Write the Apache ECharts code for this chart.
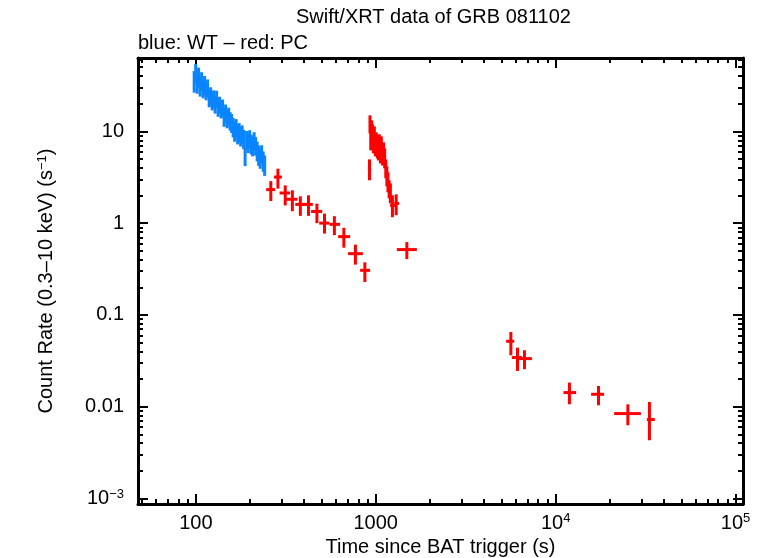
<!DOCTYPE html>
<html>
<head>
<meta charset="utf-8">
<script src="https://cdn.jsdelivr.net/npm/echarts@6/dist/echarts.min.js"></script>
<style>
  html, body { margin: 0; padding: 0; background: #fff; }
  #chart { width: 761px; height: 558px; }
</style>
</head>
<body>
<div id="chart"></div>
<script>
// WT mode (blue): time (s), time half-width (s), rate, rate error
const wtTime = [97.9, 99.8, 101.7, 103.6, 105.7, 107.7, 109.8, 111.9, 114.1, 116.3, 118.6, 120.9,
  123.2, 125.6, 128.0, 130.5, 133.0, 135.6, 138.2, 140.9, 143.6, 146.4, 149.3, 152.2,
  155.1, 158.1, 161.2, 164.3, 167.5, 170.8, 174.1, 177.5, 180.9, 184.4, 187.9, 191.6,
  195.3, 199.1, 203.0, 206.9, 210.9, 215.0, 219.2, 223.4, 227.8, 232.2, 236.7, 241.3];
const wtTErr = [0.95, 0.96, 0.98, 1.0, 1.0, 1.0, 1.05, 1.07, 1.1, 1.1, 1.1, 1.15,
  1.2, 1.2, 1.2, 1.25, 1.25, 1.3, 1.3, 1.35, 1.35, 1.4, 1.4, 1.45,
  1.5, 1.5, 1.5, 1.55, 1.6, 1.6, 1.65, 1.7, 1.7, 1.75, 1.8, 1.8,
  1.85, 1.9, 1.9, 2.0, 2.0, 2.0, 2.1, 2.1, 2.15, 2.2, 2.25, 2.3];
const wtRate = [35.9, 43.9, 34.2, 39.7, 31.7, 35.9, 29.4, 32.5, 28.0, 30.2, 23.5, 24.7,
  21.8, 22.9, 20.2, 22.9, 18.7, 19.7, 17.8, 18.3, 14.6, 16.1, 13.9, 14.9,
  13.2, 12.5, 11.3, 10.3, 11.1, 9.51, 10.0, 9.04, 9.51, 8.39, 5.48, 8.18,
  7.59, 8.39, 7.40, 7.04, 7.98, 7.04, 6.21, 5.61, 5.21, 5.76, 4.83, 4.37];
const wtErr = [9.5, 10.5, 8.5, 9.8, 7.8, 8.2, 6.5, 7.6, 6.2, 6.6, 5.2, 5.5,
  4.9, 5.1, 4.6, 4.8, 4.3, 4.1, 4.0, 3.9, 3.4, 3.5, 3.1, 3.2,
  3.0, 2.9, 2.7, 2.6, 2.5, 2.3, 2.3, 2.2, 2.1, 2.0, 1.3, 1.9,
  1.8, 1.9, 1.8, 1.7, 1.8, 1.6, 1.5, 1.4, 1.3, 1.3, 1.2, 1.1];

// PC mode (red): time, time start, time end, rate, rate low, rate high
const pcTime = [261, 286, 314, 344, 381, 423, 471, 519, 589, 665, 771, 870, 923,
  929, 938, 949, 960, 971, 982, 995, 1008, 1021, 1034, 1047, 1061, 1074, 1089, 1105,
  1121, 1137, 1153, 1169, 1187, 1206, 1238, 1299, 1489,
  5636, 6136, 6709, 11930, 17300, 25200, 33210];
const pcTLo = [246, 272, 292, 318, 357, 396, 437, 485, 553, 618, 702, 819, 904,
  925, 934, 944, 955, 966, 977, 989, 1002, 1015, 1028, 1041, 1055, 1068, 1082, 1098,
  1114, 1130, 1146, 1162, 1179, 1198, 1202, 1270, 1310,
  5308, 5708, 6214, 11050, 15750, 21150, 32140];
const pcTHi = [276, 301, 334, 367, 405, 447, 504, 553, 634, 721, 848, 931, 943,
  933, 942, 954, 965, 976, 987, 1001, 1014, 1027, 1040, 1053, 1067, 1081, 1096, 1112,
  1128, 1145, 1161, 1177, 1195, 1214, 1282, 1350, 1692,
  5881, 6489, 7376, 13000, 18600, 29770, 35600];
const pcRate = [2.32, 3.18, 2.13, 1.82, 1.60, 1.60, 1.34, 1.00, 0.97, 0.713, 0.465, 0.306, 3.92,
  12.53, 8.39, 10.78, 9.51, 7.78, 8.82, 7.04, 7.98, 6.86, 6.21, 7.04, 5.90, 6.69, 5.48, 5.90,
  5.08, 3.95, 3.32, 2.78, 2.39, 2.11, 1.56, 1.64, 0.515,
  0.0516, 0.0343, 0.0334, 0.01424, 0.01365, 0.00841, 0.00724];
const pcRLo = [1.74, 2.38, 1.56, 1.35, 1.20, 1.20, 1.00, 0.77, 0.74, 0.54, 0.353, 0.228, 2.93,
  9.51, 6.21, 7.98, 7.04, 5.76, 6.53, 5.34, 5.90, 5.08, 4.83, 5.34, 4.48, 4.83, 4.26, 4.26,
  3.95, 3.08, 2.52, 2.17, 1.86, 1.64, 1.16, 1.22, 0.406,
  0.0363, 0.0245, 0.0256, 0.01062, 0.01036, 0.00627, 0.00431];
const pcRHi = [2.87, 3.92, 2.58, 2.28, 1.96, 2.01, 1.63, 1.27, 1.19, 0.89, 0.583, 0.374, 4.95,
  14.94, 11.34, 13.18, 11.92, 10.25, 11.34, 9.28, 9.75, 9.05, 7.98, 9.28, 7.98, 8.82, 7.22, 7.59,
  6.53, 4.95, 4.16, 3.58, 2.93, 2.71, 2.01, 2.06, 0.622,
  0.0651, 0.0440, 0.0412, 0.0183, 0.01681, 0.01062, 0.01125];

// axis ticks
const xMajor = [100, 1000, 10000, 100000];
const xMinor = [50, 60, 70, 80, 90, 200, 300, 400, 500, 600, 700, 800, 900,
  2000, 3000, 4000, 5000, 6000, 7000, 8000, 9000, 20000, 30000, 40000, 50000, 60000, 70000, 80000, 90000];
const yMajor = [0.001, 0.01, 0.1, 1, 10];
const yMinor = [0.002, 0.003, 0.004, 0.005, 0.006, 0.007, 0.008, 0.009,
  0.02, 0.03, 0.04, 0.05, 0.06, 0.07, 0.08, 0.09,
  0.2, 0.3, 0.4, 0.5, 0.6, 0.7, 0.8, 0.9,
  2, 3, 4, 5, 6, 7, 8, 9, 20, 30, 40, 50, 60];

const X_MIN = 47.7, X_MAX = 110000;
const Y_MIN = 0.00087, Y_MAX = 63;

const FONT = "'Liberation Sans', Arial, Helvetica, sans-serif";

function xLabel(v) {
  if (Math.abs(v - 100) < 1e-6) return '{b|100}';
  if (Math.abs(v - 1000) < 1e-6) return '{b|1000}';
  if (Math.abs(v - 10000) < 1e-3) return '{b|10}{s|4}';
  if (Math.abs(v - 100000) < 1e-2) return '{b|10}{s|5}';
  return '';
}
function yLabel(v) {
  if (Math.abs(v - 10) < 1e-6) return '{b|10}';
  if (Math.abs(v - 1) < 1e-6) return '{b|1}';
  if (Math.abs(v - 0.1) < 1e-7) return '{b|0.1}';
  if (Math.abs(v - 0.01) < 1e-8) return '{b|0.01}';
  if (Math.abs(v - 0.001) < 1e-9) return '{b|10}{s|\u22123}';
  return '';
}
const richText = {
  b: { fontSize: 20, fontFamily: FONT, color: '#000', lineHeight: 22 },
  s: { fontSize: 13, fontFamily: FONT, color: '#000', verticalAlign: 'top', lineHeight: 22 }
};

const lineStyle = { color: '#000', width: 3 };
const tickStyle = { color: '#000', width: 2 };

function xAx(pos, ticks, len, withLine, withLabel) {
  return {
    type: 'log', logBase: 10, min: X_MIN, max: X_MAX, position: pos,
    splitLine: { show: false },
    axisLine: { show: withLine, lineStyle: lineStyle },
    axisTick: { show: true, inside: true, length: len, customValues: ticks, lineStyle: tickStyle },
    axisLabel: withLabel ? { show: true, customValues: xMajor, formatter: xLabel, margin: 8, rich: richText } : { show: false },
    name: withLabel ? 'Time since BAT trigger (s)' : '',
    nameLocation: 'middle', nameGap: 32,
    nameTextStyle: { fontSize: 20, fontFamily: FONT, color: '#000' }
  };
}
function yAx(pos, ticks, len, withLine, withLabel) {
  return {
    type: 'log', logBase: 10, min: Y_MIN, max: Y_MAX, position: pos,
    splitLine: { show: false },
    axisLine: { show: withLine, lineStyle: lineStyle },
    axisTick: { show: true, inside: true, length: len, customValues: ticks, lineStyle: tickStyle },
    axisLabel: withLabel ? { show: true, customValues: yMajor, formatter: yLabel, margin: 14, rich: richText } : { show: false },
    name: withLabel ? 'Count Rate (0.3\u201310 keV) (s{s|\u22121})' : '',
    nameLocation: 'middle', nameGap: 82,
    nameTextStyle: { fontSize: 20, fontFamily: FONT, color: '#000', rich: { s: { fontSize: 13, fontFamily: FONT, verticalAlign: 'top', color: '#000' } } }
  };
}

function errorBars(color, width) {
  return function (params, api) {
    const t = api.value(0), r = api.value(1);
    const a = api.coord([api.value(2), r]);
    const b = api.coord([api.value(3), r]);
    const c = api.coord([t, api.value(4)]);
    const d = api.coord([t, api.value(5)]);
    const style = { stroke: color, lineWidth: width, fill: null };
    return {
      type: 'group',
      children: [
        { type: 'line', shape: { x1: a[0], y1: a[1], x2: b[0], y2: b[1] }, style: style },
        { type: 'line', shape: { x1: c[0], y1: c[1], x2: d[0], y2: d[1] }, style: style }
      ]
    };
  };
}

const wtData = wtTime.map((t, i) => [t, wtRate[i], t - wtTErr[i], t + wtTErr[i], wtRate[i] - wtErr[i], wtRate[i] + wtErr[i]]);
const pcData = pcTime.map((t, i) => [t, pcRate[i], pcTLo[i], pcTHi[i], pcRLo[i], pcRHi[i]]);

const chart = echarts.init(document.getElementById('chart'));
chart.setOption({
  animation: false,
  backgroundColor: '#fff',
  title: [
    { text: 'Swift/XRT data of GRB 081102', left: 296, top: 7, padding: 0,
      textStyle: { fontSize: 20, fontWeight: 'normal', fontFamily: FONT, color: '#000' } },
    { text: 'blue: WT \u2013 red: PC', left: 138, top: 33, padding: 0,
      textStyle: { fontSize: 20, fontWeight: 'normal', fontFamily: FONT, color: '#000' } }
  ],
  grid: { left: 138, right: 18, top: 58, bottom: 54, containLabel: false, outerBoundsMode: 'none' },
  xAxis: [
    xAx('bottom', xMajor, 10, true, true),
    xAx('bottom', xMinor, 5, false, false),
    xAx('top', xMajor, 10, true, false),
    xAx('top', xMinor, 5, false, false)
  ],
  yAxis: [
    yAx('left', yMajor, 10, true, true),
    yAx('left', yMinor, 5, false, false),
    yAx('right', yMajor, 10, true, false),
    yAx('right', yMinor, 5, false, false)
  ],
  series: [
    { name: 'WT', type: 'custom', xAxisIndex: 0, yAxisIndex: 0, clip: true,
      renderItem: errorBars('#0a84ff', 3), encode: { x: 0, y: 1 }, data: wtData },
    { name: 'PC', type: 'custom', xAxisIndex: 0, yAxisIndex: 0, clip: true,
      renderItem: errorBars('#ff0000', 3), encode: { x: 0, y: 1 }, data: pcData }
  ]
});
</script>
</body>
</html>
